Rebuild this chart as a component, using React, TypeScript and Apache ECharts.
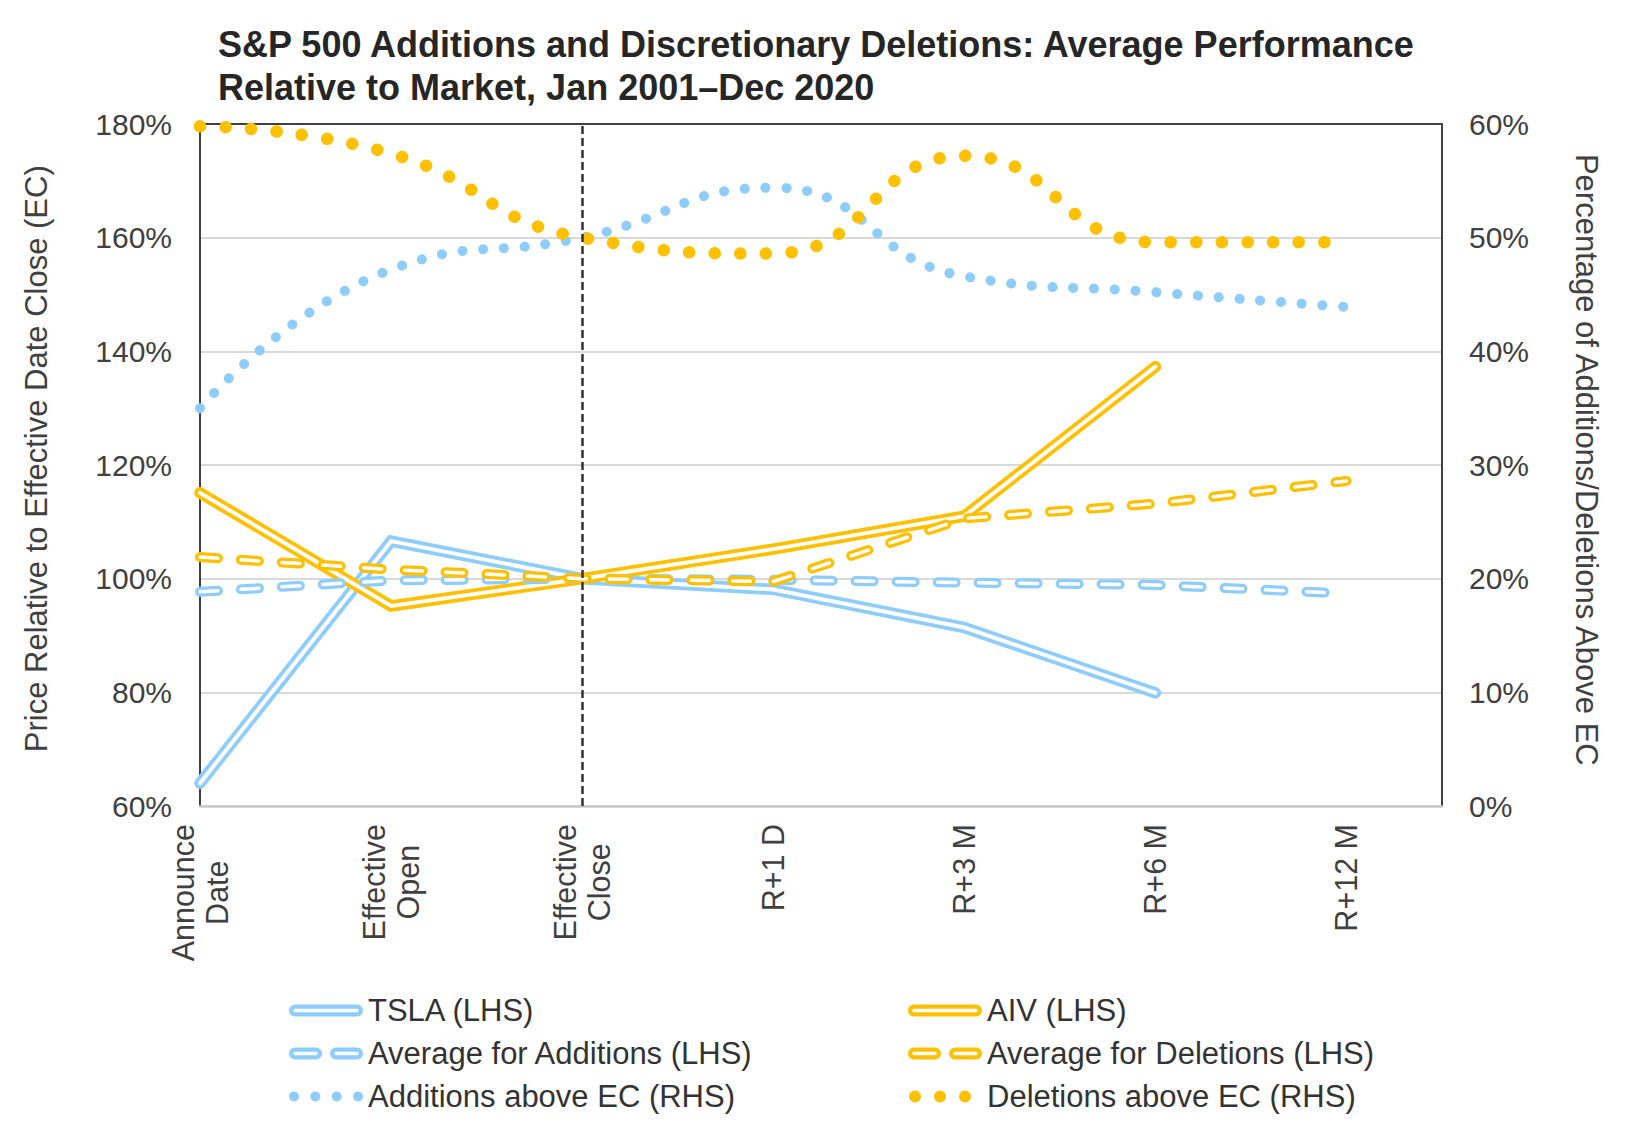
import React, { useEffect, useRef } from 'react';
import * as echarts from 'echarts';

// ---------- data ----------
const categories = ['Announce\nDate', 'Effective\nOpen', 'Effective\nClose', 'R+1 D', 'R+3 M', 'R+6 M', 'R+12 M'];
const tslaValues = [64.0, 106.6, 100.0, 98.1, 91.4, 79.9];
const aivValues = [115.1, 95.2, 100.0, 105.2, 111.0, 137.3];
const avgAdditionsValues = [97.7, 99.7, 100.0, 99.8, 99.3, 98.9, 97.4];
const avgDeletionsValues = [103.8, 101.6, 100.0, 99.5, 110.6, 113.2, 117.2];
const additionsAboveEC = [35.0, 47.2, 50.0, 54.4, 46.6, 45.2, 43.9];
const deletionsAboveEC = [59.8, 57.4, 50.0, 48.6, 57.2, 49.6, 49.6];
const effectiveCloseIndex = 2;

const titleText = 'S&P 500 Additions and Discretionary Deletions: Average Performance\nRelative to Market, Jan 2001\u2013Dec 2020';
const leftAxisTitle = 'Price Relative to Effective Date Close (EC)';
const rightAxisTitle = 'Percentage of Additions/Deletions Above EC';
const seriesNames = {
  tsla: 'TSLA (LHS)',
  aiv: 'AIV (LHS)',
  avgAdd: 'Average for Additions (LHS)',
  avgDel: 'Average for Deletions (LHS)',
  addAbove: 'Additions above EC (RHS)',
  delAbove: 'Deletions above EC (RHS)',
};

// ---------- styles ----------
const FONT = '"Liberation Sans", Arial, Helvetica, sans-serif';
const BLUE = '#8ECDFB';
const GOLD = '#FFC000';
const TEXT = '#404040';

const xy = (arr: number[]) => arr.map((v, i) => [i, v]);

const capsule = (x0: number, x1: number) => {
  const a = x0 + 6;
  const b = x1 - 6;
  const outer = `M${a},0 H${b} A6,6 0 0 1 ${b},12 H${a} A6,6 0 0 1 ${a},0 Z`;
  const inner = `M${a},4.3 A1.7,1.7 0 0 0 ${a},7.7 H${b} A1.7,1.7 0 0 0 ${b},4.3 Z`;
  return outer + ' ' + inner;
};
const circle = (cx: number, cy: number, r: number) =>
  `M${cx - r},${cy} A${r},${r} 0 1 0 ${cx + r},${cy} A${r},${r} 0 1 0 ${cx - r},${cy} Z`;
const bbox = ' M0,0 L0,0 M74,12 L74,12';

const solidIcon = 'path://' + capsule(0, 74);
const dashIcon = 'path://' + capsule(0, 33) + ' ' + capsule(41, 74);
const blueDotIcon = 'path://' + [5, 26.3, 47.7, 69].map((c) => circle(c, 6, 5)).join(' ') + bbox;
const goldDotIcon = 'path://' + [7, 32, 57].map((c) => circle(c, 6, 6)).join(' ') + bbox;

function doubleLine(name: string, values: number[], color: string, dashed: boolean, extra: any = {}) {
  const dash = dashed ? [18, 23] : 'solid';
  return [
    {
      type: 'line',
      name,
      data: xy(values),
      xAxisIndex: 0,
      yAxisIndex: 0,
      symbol: 'none',
      silent: true,
      color,
      itemStyle: { color },
      lineStyle: { color, width: dashed ? 10 : 11.5, type: dash, cap: 'round', join: 'miter' },
      emphasis: { disabled: true },
      ...extra,
    },
    {
      type: 'line',
      name: name + ' core',
      data: xy(values),
      xAxisIndex: 0,
      yAxisIndex: 0,
      symbol: 'none',
      silent: true,
      lineStyle: { color: '#ffffff', width: dashed ? 3.5 : 4, type: dash, cap: 'round', join: 'miter' },
      emphasis: { disabled: true },
    },
  ];
}

function dottedLine(name: string, values: number[], color: string, width: number, gap: number) {
  return {
    type: 'line',
    name,
    data: xy(values),
    xAxisIndex: 0,
    yAxisIndex: 1,
    symbol: 'none',
    smooth: 0.5,
    silent: true,
    color,
    itemStyle: { color },
    lineStyle: { color, width, type: [0.1, gap], cap: 'round' },
    emphasis: { disabled: true },
  };
}

const legendCommon = {
  orient: 'vertical',
  top: 995,
  itemWidth: 74,
  itemHeight: 12,
  itemGap: 12,
  padding: 0,
  selectedMode: false,
  itemStyle: { borderWidth: 0 },
  textStyle: { fontFamily: FONT, fontSize: 31, color: '#333333' },
};

export default function App() {
  const ref = useRef<HTMLDivElement>(null);

  useEffect(() => {
    if (!ref.current) return;
    const chart = echarts.init(ref.current, undefined, { renderer: 'svg' });

    const option: any = {
      animation: false,
      backgroundColor: '#ffffff',
      title: {
        text: titleText,
        left: 218,
        top: 23,
        padding: 0,
        textStyle: { fontFamily: FONT, fontSize: 36, fontWeight: 'bold', color: '#262626', lineHeight: 43 },
      },
      grid: { left: 200, right: 200, top: 124, bottom: 331, containLabel: false },
      legend: [
        {
          ...legendCommon,
          left: 289,
          data: [
            { name: seriesNames.tsla, icon: solidIcon, itemStyle: { color: BLUE, borderWidth: 0 } },
            { name: seriesNames.avgAdd, icon: dashIcon, itemStyle: { color: BLUE, borderWidth: 0 } },
            { name: seriesNames.addAbove, icon: blueDotIcon, itemStyle: { color: BLUE, borderWidth: 0 } },
          ],
        },
        {
          ...legendCommon,
          left: 908,
          data: [
            { name: seriesNames.aiv, icon: solidIcon, itemStyle: { color: GOLD, borderWidth: 0 } },
            { name: seriesNames.avgDel, icon: dashIcon, itemStyle: { color: GOLD, borderWidth: 0 } },
            { name: seriesNames.delAbove, icon: goldDotIcon, itemStyle: { color: GOLD, borderWidth: 0 } },
          ],
        },
      ],
      xAxis: [
        {
          type: 'value',
          position: 'bottom',
          min: 0,
          max: 6.5,
          interval: 1,
          axisLine: { show: true, onZero: false, lineStyle: { color: '#c9c9c9', width: 2.5 } },
          axisTick: { show: false },
          splitLine: { show: false },
          axisLabel: {
            rotate: 90,
            margin: 18,
            showMaxLabel: false,
            formatter: (v: number) => {
              const c = Number.isInteger(v) ? categories[v] : undefined;
              if (!c) return '';
              return c.split('\n').map((l) => `{c|${l}}`).join('\n');
            },
            rich: {
              c: { fontFamily: FONT, fontSize: 30.5, lineHeight: 34, color: TEXT, align: 'center' },
            },
          },
        },
        {
          type: 'value',
          position: 'top',
          min: 0,
          max: 6.5,
          interval: 1,
          axisLine: { show: true, onZero: false, lineStyle: { color: '#404040', width: 2 } },
          axisTick: { show: false },
          axisLabel: { show: false },
          splitLine: { show: false },
        },
      ],
      yAxis: [
        {
          type: 'value',
          position: 'left',
          min: 60,
          max: 180,
          interval: 20,
          axisLine: { show: true, onZero: false, lineStyle: { color: '#404040', width: 2 } },
          axisTick: { show: false },
          axisLabel: { formatter: '{value}%', fontFamily: FONT, fontSize: 30, color: TEXT, margin: 28 },
          splitLine: { show: true, lineStyle: { color: '#d9d9d9', width: 2 } },
        },
        {
          type: 'value',
          position: 'right',
          min: 0,
          max: 60,
          interval: 10,
          axisLine: { show: true, onZero: false, lineStyle: { color: '#404040', width: 2 } },
          axisTick: { show: false },
          axisLabel: { formatter: '{value}%', fontFamily: FONT, fontSize: 30, color: TEXT, margin: 27 },
          splitLine: { show: false },
        },
      ],
      graphic: [
        {
          type: 'text',
          x: 36.6,
          y: 458.7,
          rotation: Math.PI / 2,
          silent: true,
          style: { text: leftAxisTitle, fontFamily: FONT, fontSize: 31, fill: TEXT, align: 'center', verticalAlign: 'middle' },
        },
        {
          type: 'text',
          x: 1586,
          y: 459.8,
          rotation: -Math.PI / 2,
          silent: true,
          style: { text: rightAxisTitle, fontFamily: FONT, fontSize: 31, fill: TEXT, align: 'center', verticalAlign: 'middle' },
        },
      ],
      series: [
        ...doubleLine(seriesNames.tsla, tslaValues, BLUE, false, {
          markLine: {
            silent: true,
            symbol: ['none', 'none'],
            label: { show: false },
            emphasis: { disabled: true },
            lineStyle: { color: '#333333', width: 2.5, type: [8, 4] },
            data: [{ xAxis: effectiveCloseIndex }],
          },
        }),
        ...doubleLine(seriesNames.aiv, aivValues, GOLD, false),
        ...doubleLine(seriesNames.avgAdd, avgAdditionsValues, BLUE, true),
        ...doubleLine(seriesNames.avgDel, avgDeletionsValues, GOLD, true),
        dottedLine(seriesNames.addAbove, additionsAboveEC, BLUE, 10, 20.7),
        dottedLine(seriesNames.delAbove, deletionsAboveEC, GOLD, 12.5, 25.5),
      ],
    };

    chart.setOption(option);
    return () => chart.dispose();
  }, []);

  return <div ref={ref} style={{ position: 'absolute', left: 0, top: 0, width: 1642, height: 1137 }} />;
}
